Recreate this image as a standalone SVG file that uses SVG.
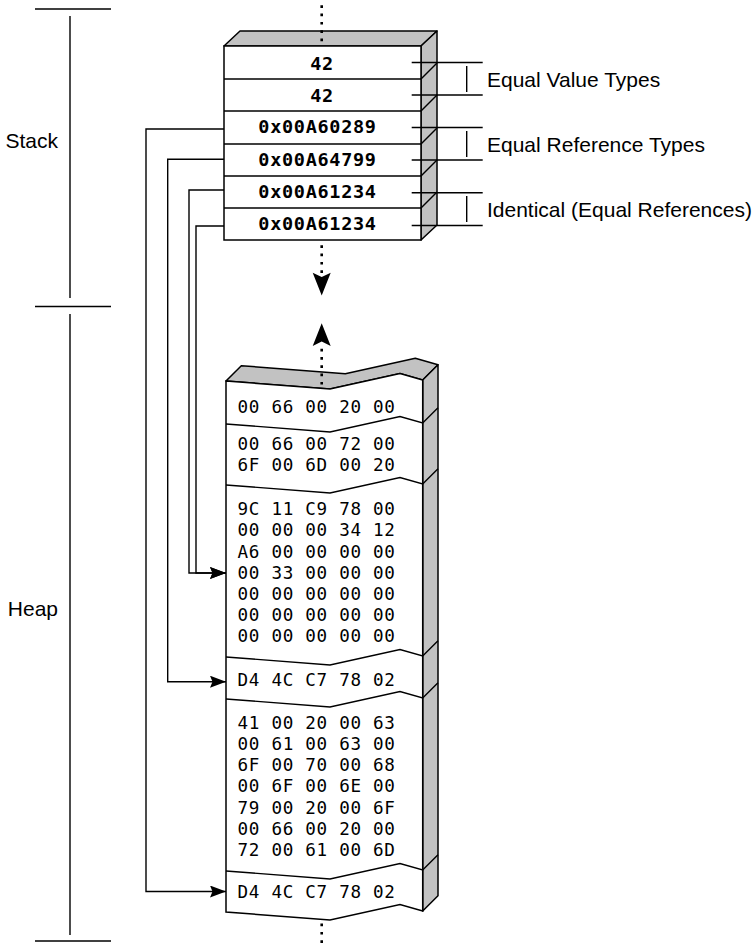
<svg xmlns="http://www.w3.org/2000/svg" width="756" height="946" viewBox="0 0 756 946">
<defs>
<style>
.ln{stroke:#000;stroke-width:1.4;fill:none}
.face{fill:#fff;stroke:#000;stroke-width:1.5}
.side{fill:#c2c2c2;stroke:#000;stroke-width:1.5;stroke-linejoin:round}
.dot{stroke:#000;stroke-width:2.6;stroke-dasharray:2.7 5.6;fill:none}
.lbl{font-family:"Liberation Sans",Arial,sans-serif;font-size:21px;fill:#000}
.stk{font-family:"DejaVu Sans Mono","Liberation Mono",monospace;font-size:18.5px;font-weight:bold;letter-spacing:0.7px;fill:#000;text-anchor:middle}
.hex{font-family:"DejaVu Sans Mono","Liberation Mono",monospace;font-size:17.6px;letter-spacing:0.7px;fill:#000}
.ah{fill:#000;stroke:none}
</style>
<marker id="arr" markerUnits="userSpaceOnUse" markerWidth="18" markerHeight="14" refX="16" refY="6" orient="auto">
<path d="M0,0 L16,6 L0,12 L2.5,6 z" fill="#000"/>
</marker>
</defs>

<!-- left axis -->
<g id="axis">
<line class="ln" x1="35" y1="9" x2="111" y2="9"/>
<line class="ln" x1="70" y1="16" x2="70" y2="298"/>
<line class="ln" x1="35" y1="306.5" x2="111" y2="306.5"/>
<line class="ln" x1="70" y1="314" x2="70" y2="935"/>
<line class="ln" x1="35" y1="941" x2="111" y2="941"/>
<text class="lbl" x="58" y="148" text-anchor="end">Stack</text>
<text class="lbl" x="58" y="616" text-anchor="end">Heap</text>
</g>

<!-- stack -->
<g id="stack">
<polygon class="side" points="224,46 240,31 437,31 421,46"/>
<polygon class="side" points="421,46 437,31 437,225 421,240"/>
<rect class="face" x="224" y="46" width="197" height="194"/>
<g class="ln">
<line x1="224" y1="79" x2="421" y2="79"/>
<line x1="224" y1="111" x2="421" y2="111"/>
<line x1="224" y1="144" x2="421" y2="144"/>
<line x1="224" y1="176" x2="421" y2="176"/>
<line x1="224" y1="208" x2="421" y2="208"/>
<line x1="421" y1="79" x2="437" y2="63"/>
<line x1="421" y1="111" x2="437" y2="95"/>
<line x1="421" y1="144" x2="437" y2="128"/>
<line x1="421" y1="176" x2="437" y2="160"/>
<line x1="421" y1="208" x2="437" y2="192"/>
</g>
<text class="stk" x="322" y="70">42</text>
<text class="stk" x="322" y="101.7">42</text>
<text class="stk" x="317.5" y="133.3">0x00A60289</text>
<text class="stk" x="317.5" y="165.7">0x00A64799</text>
<text class="stk" x="317.5" y="197.7">0x00A61234</text>
<text class="stk" x="317.5" y="230">0x00A61234</text>
</g>

<!-- right labels -->
<g id="label-value">
<line class="ln" x1="411.7" y1="62.5" x2="482.7" y2="62.5"/>
<line class="ln" x1="411.7" y1="95" x2="482.7" y2="95"/>
<line class="ln" x1="466.7" y1="66" x2="466.7" y2="92"/>
<text class="lbl" x="487" y="87">Equal Value Types</text>
</g>
<g id="label-reference">
<line class="ln" x1="411.7" y1="127.5" x2="482.7" y2="127.5"/>
<line class="ln" x1="411.7" y1="160" x2="482.7" y2="160"/>
<line class="ln" x1="466.7" y1="131" x2="466.7" y2="157"/>
<text class="lbl" x="487" y="151.7">Equal Reference Types</text>
</g>
<g id="label-identical">
<line class="ln" x1="411.7" y1="192.7" x2="482.7" y2="192.7"/>
<line class="ln" x1="411.7" y1="225.5" x2="482.7" y2="225.5"/>
<line class="ln" x1="466.7" y1="196" x2="466.7" y2="222"/>
<text class="lbl" x="487" y="217">Identical (Equal References)</text>
</g>

<!-- heap -->
<g id="heap">
<polygon class="side" points="226,381 330,389 400,373.5 422.7,380 438,364.7 415.3,358.2 345.3,373.7 241.3,365.7"/>
<polygon class="side" points="422.7,380 438,364.7 438,895.7 422.7,911"/>
<path class="face" d="M226,381 L330,389 L400,373.5 L422.7,380 L422.7,911 L400,904.5 L330,920 L226,912 Z"/>
<g class="ln">
<polyline points="226,424 330,432 400,416.5 422.7,423 438,407.7"/>
<polyline points="226,485 330,493 400,477.5 422.7,484 438,468.7"/>
<polyline points="226,657 330,665 400,649.5 422.7,656 438,640.7"/>
<polyline points="226,699 330,707 400,691.5 422.7,698 438,682.7"/>
<polyline points="226,871 330,879 400,863.5 422.7,870 438,854.7"/>
</g>
<text class="hex" x="237.5" y="413">00 66 00 20 00</text>
<text class="hex" x="237.5" y="450">00 66 00 72 00</text>
<text class="hex" x="237.5" y="471">6F 00 6D 00 20</text>
<text class="hex" x="237.5" y="515.3">9C 11 C9 78 00</text>
<text class="hex" x="237.5" y="536.4">00 00 00 34 12</text>
<text class="hex" x="237.5" y="557.5">A6 00 00 00 00</text>
<text class="hex" x="237.5" y="578.6">00 33 00 00 00</text>
<text class="hex" x="237.5" y="599.7">00 00 00 00 00</text>
<text class="hex" x="237.5" y="620.8">00 00 00 00 00</text>
<text class="hex" x="237.5" y="641.9">00 00 00 00 00</text>
<text class="hex" x="237.5" y="686">D4 4C C7 78 02</text>
<text class="hex" x="237.5" y="728.5">41 00 20 00 63</text>
<text class="hex" x="237.5" y="749.8">00 61 00 63 00</text>
<text class="hex" x="237.5" y="771">6F 00 70 00 68</text>
<text class="hex" x="237.5" y="792.3">00 6F 00 6E 00</text>
<text class="hex" x="237.5" y="813.5">79 00 20 00 6F</text>
<text class="hex" x="237.5" y="834.8">00 66 00 20 00</text>
<text class="hex" x="237.5" y="856">72 00 61 00 6D</text>
<text class="hex" x="237.5" y="897.5">D4 4C C7 78 02</text>
</g>

<!-- dotted continuation arrows -->
<g id="continuations">
<line class="dot" x1="321.7" y1="5.3" x2="321.7" y2="42"/>
<line class="dot" x1="321.7" y1="245.3" x2="321.7" y2="274"/>
<path class="ah" d="M312.7,272.7 L321.7,277 L330.7,272.7 L321.7,295.5 Z"/>
<path class="ah" d="M312.7,346 L321.7,341.5 L330.7,346 L321.7,323.3 Z"/>
<line class="dot" x1="321.7" y1="348.7" x2="321.7" y2="385"/>
<line class="dot" x1="321.7" y1="923.6" x2="321.7" y2="944"/>
</g>

<!-- connectors -->
<g id="connectors">
<path class="ln" d="M224,129 H146 V891.5 H226" marker-end="url(#arr)"/>
<path class="ln" d="M224,159.3 H167.7 V681.7 H226" marker-end="url(#arr)"/>
<path class="ln" d="M224,190 H189 V573 H226" marker-end="url(#arr)"/>
<path class="ln" d="M224,226 H196 V573 H226" marker-end="url(#arr)"/>
</g>
</svg>
